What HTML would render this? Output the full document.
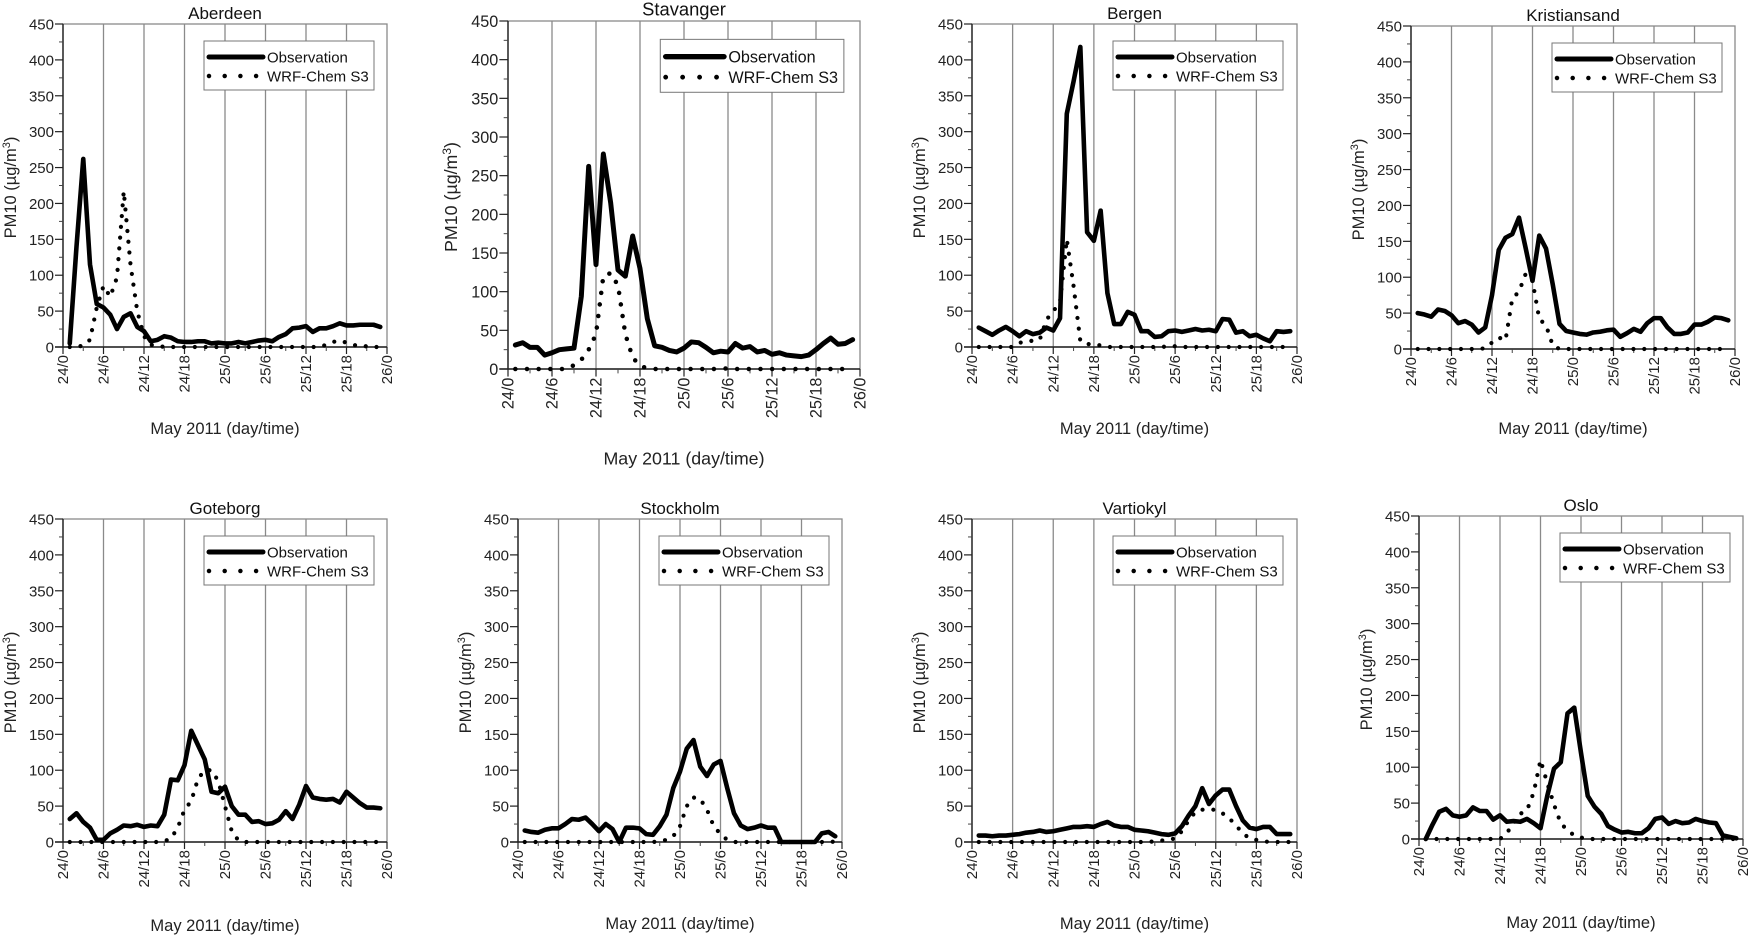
<!DOCTYPE html>
<html><head><meta charset="utf-8">
<style>
html,body{margin:0;padding:0;background:#fff;}
svg{display:block;font-family:"Liberation Sans",Arial,sans-serif;}
</style></head>
<body>
<svg id="fig" width="1749" height="935" viewBox="0 0 1749 935"></svg>
<script>
const hours = [1,2,3,4,5,6,7,8,9,10,11,12,13,14,15,16,17,18,19,20,21,22,23,24,25,26,27,28,29,30,31,32,33,34,35,36,37,38,39,40,41,42,43,44,45,46,47];
const xTickLabels = ["24/0","24/6","24/12","24/18","25/0","25/6","25/12","25/18","26/0"];
const xTickHours = [0,6,12,18,24,30,36,42,48];
const yTickValues = [0,50,100,150,200,250,300,350,400,450];

const aberdeenObs = [5,140,262,115,60,55,45,25,42,47,28,22,8,10,15,13,8,7,7,8,8,5,6,5,5,7,5,7,9,10,8,14,18,26,27,29,21,26,26,29,33,30,30,31,31,31,28];
const aberdeenMod = [0,0,2,10,55,85,70,97,217,115,50,15,3,2,0,0,0,0,0,0,0,0,0,0,0,0,0,0,0,0,0,0,0,0,0,0,0,0,3,7,9,6,3,1,1,0,0];
const stavangerObs = [31,34,28,28,18,21,25,26,27,94,262,135,278,215,128,120,172,130,65,30,28,24,22,27,35,34,28,21,23,22,33,27,29,22,24,19,21,18,17,16,18,25,33,40,32,33,38];
const stavangerMod = [0,0,0,0,0,0,0,0,5,12,25,45,120,124,108,45,15,4,1,0,0,0,0,0,0,0,0,0,0,1,0,0,0,0,0,0,0,0,0,0,0,0,0,0,0,0,0];
const bergenObs = [27,22,17,23,28,22,15,22,18,20,27,23,40,325,370,418,160,148,190,75,32,32,49,45,22,22,14,15,22,23,21,23,25,23,24,22,39,38,20,22,15,17,12,8,22,21,22];
const bergenMod = [0,0,0,0,0,0,6,7,9,10,38,50,62,150,85,8,4,4,2,0,0,0,0,0,0,0,0,0,1,1,0,0,0,0,0,0,0,0,0,0,0,0,0,0,0,0,0];
const kristiansandObs = [50,48,45,55,53,47,36,39,34,23,30,75,138,155,160,183,140,95,158,140,90,35,25,23,21,20,23,24,26,27,17,22,28,24,36,43,43,30,21,21,23,34,34,38,44,43,40];
const kristiansandMod = [0,0,0,0,0,0,0,0,0,0,1,9,16,12,70,80,105,95,42,33,5,0,0,0,0,0,0,0,0,0,0,0,0,0,0,0,0,0,0,0,0,0,0,0,0,0,0];
const goteborgObs = [32,40,28,20,3,3,12,17,23,22,24,21,23,22,38,87,86,107,155,135,115,70,68,77,50,38,38,28,29,25,26,31,43,32,52,78,62,60,59,60,55,70,62,54,48,48,47];
const goteborgMod = [0,0,0,0,0,0,0,0,0,0,0,0,0,0,1,5,20,45,57,88,100,100,85,50,15,2,0,0,0,0,0,0,0,0,0,0,0,0,0,0,0,0,0,0,0,0,0];
const stockholmObs = [16,14,13,17,19,19,25,32,31,34,25,15,25,18,0,20,20,19,11,10,22,38,75,98,130,142,105,92,108,113,75,40,23,18,20,23,20,20,0,0,0,0,0,0,12,14,8];
const stockholmMod = [0,0,0,0,0,0,0,0,0,0,0,0,0,0,0,0,0,0,0,0,1,3,8,22,50,62,60,45,22,11,3,0,0,0,0,0,0,0,0,0,0,0,0,0,0,1,0];
const vartiokylObs = [9,9,8,9,9,10,11,13,14,16,14,15,17,19,21,21,22,21,25,28,23,21,21,17,16,15,13,11,10,12,22,37,50,75,53,65,73,73,50,30,20,18,21,21,11,11,11];
const vartiokylMod = [0,0,0,0,0,0,0,0,0,0,0,0,0,0,0,0,0,0,0,0,0,0,0,0,0,0,1,2,3,5,15,30,42,45,45,45,40,33,23,12,5,3,1,0,0,0,0];
const osloObs = [0,20,38,42,33,31,33,44,39,39,27,33,24,25,24,28,22,15,60,98,107,175,183,120,60,45,35,18,13,9,10,8,8,15,28,30,21,25,22,23,28,25,23,22,5,3,1];
const osloMod = [0,0,0,0,0,0,0,0,0,0,0,0,8,22,35,40,65,110,78,48,22,12,5,2,0,0,0,0,0,0,0,0,0,0,0,0,0,0,0,0,0,0,0,0,0,0,0];

const panels = [
 {name:"Aberdeen",obs:aberdeenObs,mod:aberdeenMod,L:63,R:387,T:24,B:347,ty:13,xly:428,s:1},
 {name:"Stavanger",obs:stavangerObs,mod:stavangerMod,L:508,R:860,T:21,B:369,ty:9,xly:458,s:1.08},
 {name:"Bergen",obs:bergenObs,mod:bergenMod,L:972,R:1297,T:24,B:347,ty:13,xly:428,s:1},
 {name:"Kristiansand",obs:kristiansandObs,mod:kristiansandMod,L:1411,R:1735,T:26,B:349,ty:15,xly:428,s:1},
 {name:"Goteborg",obs:goteborgObs,mod:goteborgMod,L:63,R:387,T:519,B:842,ty:508,xly:925,s:1},
 {name:"Stockholm",obs:stockholmObs,mod:stockholmMod,L:518,R:842,T:519,B:842,ty:508,xly:923,s:1},
 {name:"Vartiokyl",obs:vartiokylObs,mod:vartiokylMod,L:972,R:1297,T:519,B:842,ty:508,xly:923,s:1},
 {name:"Oslo",obs:osloObs,mod:osloMod,L:1419,R:1743,T:516,B:839,ty:505,xly:922,s:1}
];

const NS="http://www.w3.org/2000/svg";
const svg=document.getElementById("fig");
function mk(tag,attrs,parent,text){
  const e=document.createElementNS(NS,tag);
  for(const k in attrs) e.setAttribute(k,attrs[k]);
  if(text!==undefined) e.textContent=text;
  parent.appendChild(e);
  return e;
}

panels.forEach(p=>{
  const key=p.name.toLowerCase();
  const s=p.s;
  const g=mk("g",{},svg);
  
  
  const xS=h=>p.L+(h/48)*(p.R-p.L);
  const yS=v=>p.B-(v/450)*(p.B-p.T);

  // gridlines
  xTickHours.slice(1,-1).forEach(h=>{
    const gl=mk("line",{x1:xS(h),x2:xS(h),y1:p.T,y2:p.B,stroke:"#8a8a8a","stroke-width":1.3},g);
    
    
  });
  // frame
  const fr=mk("rect",{x:p.L,y:p.T,width:p.R-p.L,height:p.B-p.T,fill:"none",stroke:"#8a8a8a","stroke-width":1.3},g);
  
  
  // axes
  const ya=mk("line",{x1:p.L,x2:p.L,y1:p.T,y2:p.B,stroke:"#222","stroke-width":1.4},g);
  
  
  const xa=mk("line",{x1:p.L-8*s,x2:p.R,y1:p.B,y2:p.B,stroke:"#222","stroke-width":1.4},g);
  
  

  // y ticks
  yTickValues.forEach(v=>{
    mk("line",{x1:p.L-8*s,x2:p.L,y1:yS(v),y2:yS(v),stroke:"#222","stroke-width":1.2},g);
    if(v<450) mk("line",{x1:p.L-4*s,x2:p.L,y1:yS(v+25),y2:yS(v+25),stroke:"#444","stroke-width":1},g);
    const t=mk("text",{x:p.L-9*s,y:yS(v)+5.5*s,"text-anchor":"end","font-size":15*s,fill:"#222"},g,String(v));
    
    
  });
  // x ticks
  xTickHours.forEach((h,i)=>{
    mk("line",{x1:xS(h),x2:xS(h),y1:p.B,y2:p.B+7*s,stroke:"#222","stroke-width":1.2},g);
    if(h<48) mk("line",{x1:xS(h+3),x2:xS(h+3),y1:p.B,y2:p.B+4*s,stroke:"#444","stroke-width":1},g);
    const tx=xS(h)+5*s, ty=p.B+8*s;
    const t=mk("text",{x:tx,y:ty,"text-anchor":"end","font-size":15*s,fill:"#222",transform:`rotate(-90 ${tx} ${ty})`},g,xTickLabels[i]);
    
    
  });

  // title
  const ti=mk("text",{x:(p.L+p.R)/2,y:p.ty+6*s,"text-anchor":"middle","font-size":17*s,fill:"#111"},g,p.name);
  
  
  // y label
  const yc=(p.T+p.B)/2+2, yx=p.L-53*s+6*s;
  const yl=mk("text",{x:yx,y:yc,"text-anchor":"middle","font-size":16.5*s,fill:"#222",transform:`rotate(-90 ${yx} ${yc})`},g);
  
  
  yl.appendChild(document.createTextNode("PM10 (µg/m"));
  mk("tspan",{"font-size":11*s,dy:-6*s},yl,"3");
  mk("tspan",{dy:6*s},yl,")");
  // x label
  const xl=mk("text",{x:(p.L+p.R)/2,y:p.xly+6*s,"text-anchor":"middle","font-size":16.5*s,fill:"#222"},g,"May 2011 (day/time)");
  
  

  // series
  const modPts=hours.map((h,i)=>xS(h)+","+yS(p.mod[i])).join(" ");
  const ml=mk("polyline",{points:modPts,fill:"none",stroke:"#000","stroke-width":4.2*s,"stroke-linecap":"round","stroke-dasharray":`0 ${10.8*s}`},g);
  
  
  const obsPts=hours.map((h,i)=>xS(h)+","+yS(p.obs[i])).join(" ");
  const ol=mk("polyline",{points:obsPts,fill:"none",stroke:"#000","stroke-width":4.6*s,"stroke-linejoin":"round","stroke-linecap":"round"},g);
  
  

  // legend
  const lx=p.L+141*s, ly=p.T+17*s;
  const lg=mk("g",{},g);
  
  
  mk("rect",{x:lx,y:ly,width:170*s,height:49*s,fill:"#fff",stroke:"#777","stroke-width":1},lg);
  const e1=mk("line",{x1:lx+5*s,x2:lx+59*s,y1:ly+16*s,y2:ly+16*s,stroke:"#000","stroke-width":5*s,"stroke-linecap":"round"},lg);
  
  
  const t1=mk("text",{x:lx+63*s,y:ly+21.5*s,"font-size":15*s,fill:"#111"},lg,"Observation");
  
  
  const e2=mk("line",{x1:lx+5*s,x2:lx+60*s,y1:ly+35*s,y2:ly+35*s,stroke:"#000","stroke-width":4.5*s,"stroke-linecap":"round","stroke-dasharray":`0 ${15.7*s}`},lg);
  
  
  const t2=mk("text",{x:lx+63*s,y:ly+40.5*s,"font-size":15*s,fill:"#111"},lg,"WRF-Chem S3");
  
  
});
</script>
</body></html>
